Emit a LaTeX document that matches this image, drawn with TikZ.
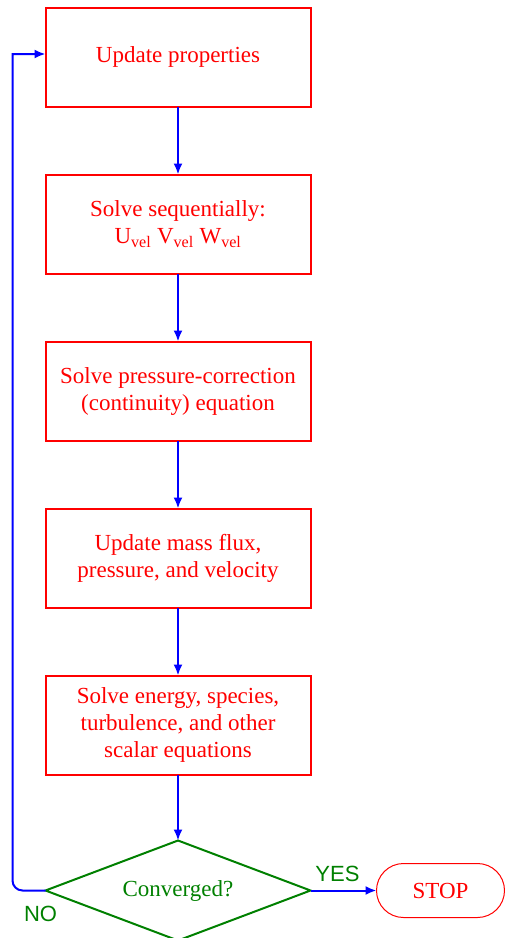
\documentclass[tikz,border=0pt]{standalone}
\usepackage{fontspec}
\setmainfont{Liberation Serif}
\newfontfamily\labelfont{Liberation Sans}
\usepackage{tikz}
\usetikzlibrary{positioning}
\usetikzlibrary{shapes.geometric,shapes.misc}
\usetikzlibrary{arrows.meta}
\usetikzlibrary{calc}
\definecolor{darkgreen}{rgb}{0.0,0.5,0.0}

\begin{document}
\begin{tikzpicture}[x=1pt,y=1pt,align=center,node distance=68pt,every node/.style={inner sep=0,outer sep=0,font=\fontsize{23}{27}\selectfont},
    stepbox/.style={draw=red,line width=2pt,text=red,minimum width=265pt,minimum height=99pt},
    decision/.style={diamond,aspect=2.65,draw=darkgreen,line width=2pt,text=darkgreen,minimum width=265pt,minimum height=100pt},
    stopbox/.style={rounded rectangle,draw=red,line width=1pt,text=red,minimum width=128pt,minimum height=54pt},
    answer/.style={text=darkgreen,font=\labelfont\fontsize{22}{26}\selectfont},
    flow/.style={draw=blue,line width=2pt,-{Latex[length=11pt,width=9pt]}}]
    \useasboundingbox (0,0) rectangle (505,-938);
    \node[stepbox] (P1) at (178,-57) {Update properties};
    \node[stepbox] (P2) [below=of P1] {Solve sequentially:\\
           U\textsubscript{vel} V\textsubscript{vel} W\textsubscript{vel}};
    \node[stepbox] (P3) [below=of P2] {Solve pressure-correction\\(continuity) equation};
    \node[stepbox] (P4) [below=of P3] {Update mass flux,\\pressure, and velocity};
    \node[stepbox] (P5) [below=of P4] {Solve energy, species,\\turbulence, and other\\scalar equations};
    \node[decision] (C) [below=66pt of P5] {Converged?};
    \node[stopbox] (S) [right=66pt of C] {STOP};
    \node[answer] (yes) [above=9pt of C.east, xshift=27pt] {YES};
    \node[answer] (no) [below=16pt of C.west, xshift=-5pt] {NO};
    \coordinate (fb) at ($(P1.west)+(-33,3)$);
    \draw[flow] (P1) -- (P2);
    \draw[flow] (P2) -- (P3);
    \draw[flow] (P3) -- (P4);
    \draw[flow] (P4) -- (P5);
    \draw[flow] (P5) -- (C);
    \draw[flow] (C) -- (S);
    \draw[flow] (C.west) [rounded corners=10pt] -- (C.west -| fb) [sharp corners] -- (fb) -- (fb -| P1.west);
\end{tikzpicture}
\end{document}
